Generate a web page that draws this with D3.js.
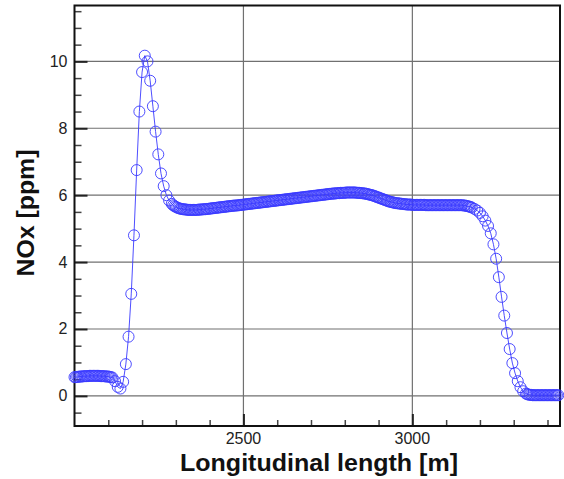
<!DOCTYPE html>
<html>
<head>
<meta charset="utf-8">
<script src="https://cdn.jsdelivr.net/npm/d3@7"></script>
<style>
  html, body { margin: 0; padding: 0; background: #fff; }
  svg { display: block; font-family: "Liberation Sans", Arial, sans-serif; }
</style>
</head>
<body>
<svg id="chart" width="564" height="479"></svg>
<script>
// Sampling positions along the tunnel [m] (finer spacing where the profile is flat)
const distance = [
  2000, 2004, 2008, 2012, 2016, 2020, 2024, 2028, 2032, 2036,
  2040, 2044, 2048, 2052, 2056, 2060, 2064, 2068, 2072, 2076,
  2080, 2084, 2088, 2092, 2096, 2100, 2104, 2108, 2112,
  2120, 2128, 2136, 2144, 2152, 2160, 2168, 2176, 2184, 2192,
  2200, 2208, 2216, 2224, 2232, 2240, 2248, 2256, 2264, 2272,
  2280, 2288,
  2292, 2296, 2300, 2304, 2308, 2312, 2316, 2320, 2324, 2328,
  2332, 2336, 2340, 2344, 2348, 2352, 2356, 2360, 2364, 2368,
  2372, 2376, 2380, 2384, 2388, 2392, 2396, 2400, 2404, 2408,
  2412, 2416, 2420, 2424, 2428, 2432, 2436, 2440, 2444, 2448,
  2452, 2456, 2460, 2464, 2468, 2472, 2476, 2480, 2484, 2488,
  2492, 2496, 2500, 2504, 2508, 2512, 2516, 2520, 2524, 2528,
  2532, 2536, 2540, 2544, 2548, 2552, 2556, 2560, 2564, 2568,
  2572, 2576, 2580, 2584, 2588, 2592, 2596, 2600, 2604, 2608,
  2612, 2616, 2620, 2624, 2628, 2632, 2636, 2640, 2644, 2648,
  2652, 2656, 2660, 2664, 2668, 2672, 2676, 2680, 2684, 2688,
  2692, 2696, 2700, 2704, 2708, 2712, 2716, 2720, 2724, 2728,
  2732, 2736, 2740, 2744, 2748, 2752, 2756, 2760, 2764, 2768,
  2772, 2776, 2780, 2784, 2788, 2792, 2796, 2800, 2804, 2808,
  2812, 2816, 2820, 2824, 2828, 2832, 2836, 2840, 2844, 2848,
  2852, 2856, 2860, 2864, 2868, 2872, 2876, 2880, 2884, 2888,
  2892, 2896, 2900, 2904, 2908, 2912, 2916, 2920, 2924, 2928,
  2932, 2936, 2940, 2944, 2948, 2952, 2956, 2960, 2964, 2968,
  2972, 2976, 2980, 2984, 2988, 2992, 2996, 3000, 3004, 3008,
  3012, 3016, 3020, 3024, 3028, 3032, 3036, 3040, 3044, 3048,
  3052, 3056, 3060, 3064, 3068, 3072, 3076, 3080, 3084, 3088,
  3092, 3096, 3100, 3104, 3108, 3112, 3116, 3120, 3124, 3128,
  3132, 3136, 3140, 3144, 3148, 3152, 3156, 3160, 3164, 3168,
  3172, 3176,
  3184, 3192, 3200, 3208, 3216, 3224, 3232, 3240, 3248, 3256,
  3264, 3272, 3280, 3288, 3296, 3304, 3312, 3320, 3328, 3336,
  3340, 3344, 3348, 3352, 3356, 3360, 3364, 3368, 3372, 3376,
  3380, 3384, 3388, 3392, 3396, 3400, 3404, 3408, 3412, 3416,
  3420, 3424, 3428, 3432
];

// NOx concentration at each position [ppm]
const nox = [
  0.56, 0.56, 0.57, 0.57, 0.58, 0.58, 0.58, 0.59, 0.59, 0.59,
  0.59, 0.60, 0.60, 0.60, 0.60, 0.60, 0.60, 0.60, 0.60, 0.59,
  0.59, 0.59, 0.59, 0.58, 0.58, 0.58, 0.57, 0.56, 0.55,
  0.44, 0.27, 0.22, 0.42, 0.95, 1.77, 3.05, 4.80, 6.75, 8.50,
  9.68, 10.17, 10.00, 9.42, 8.66, 7.90, 7.22, 6.65, 6.27, 6.00,
  5.84, 5.74,
  5.70, 5.67, 5.65, 5.63, 5.61, 5.60, 5.59, 5.58, 5.58, 5.57,
  5.57, 5.56, 5.56, 5.56, 5.56, 5.56, 5.56, 5.56, 5.56, 5.57,
  5.57, 5.57, 5.58, 5.58, 5.58, 5.59, 5.59, 5.60, 5.60, 5.61,
  5.61, 5.62, 5.62, 5.63, 5.63, 5.64, 5.64, 5.65, 5.65, 5.66,
  5.66, 5.67, 5.67, 5.68, 5.68, 5.69, 5.69, 5.69, 5.70, 5.70,
  5.71, 5.71, 5.72, 5.72, 5.73, 5.73, 5.74, 5.74, 5.75, 5.75,
  5.76, 5.76, 5.77, 5.77, 5.78, 5.78, 5.79, 5.79, 5.80, 5.80,
  5.81, 5.81, 5.82, 5.82, 5.83, 5.83, 5.84, 5.84, 5.85, 5.85,
  5.86, 5.86, 5.87, 5.87, 5.88, 5.88, 5.89, 5.89, 5.90, 5.90,
  5.91, 5.91, 5.92, 5.92, 5.93, 5.93, 5.94, 5.94, 5.95, 5.95,
  5.96, 5.96, 5.97, 5.97, 5.98, 5.98, 5.99, 5.99, 6.00, 6.00,
  6.01, 6.01, 6.02, 6.02, 6.03, 6.03, 6.04, 6.04, 6.05, 6.05,
  6.05, 6.06, 6.06, 6.06, 6.07, 6.07, 6.07, 6.07, 6.08, 6.08,
  6.08, 6.08, 6.08, 6.08, 6.08, 6.08, 6.07, 6.07, 6.07, 6.06,
  6.06, 6.05, 6.05, 6.04, 6.03, 6.02, 6.01, 6.00, 5.99, 5.97,
  5.96, 5.94, 5.93, 5.91, 5.90, 5.88, 5.87, 5.85, 5.84, 5.82,
  5.81, 5.80, 5.79, 5.78, 5.77, 5.76, 5.76, 5.75, 5.75, 5.74,
  5.74, 5.73, 5.73, 5.72, 5.72, 5.72, 5.72, 5.71, 5.71, 5.71,
  5.71, 5.71, 5.71, 5.71, 5.71, 5.71, 5.71, 5.70, 5.70, 5.70,
  5.70, 5.70, 5.70, 5.70, 5.70, 5.70, 5.70, 5.70, 5.70, 5.70,
  5.70, 5.70, 5.70, 5.70, 5.70, 5.70, 5.70, 5.70, 5.70, 5.70,
  5.70, 5.70, 5.70, 5.70, 5.70, 5.69, 5.69, 5.68, 5.67, 5.66,
  5.65, 5.63,
  5.59, 5.54, 5.47, 5.37, 5.24, 5.08, 4.86, 4.53, 4.10, 3.55,
  2.96, 2.40, 1.88, 1.40, 0.98, 0.68, 0.44, 0.26, 0.14, 0.07,
  0.05, 0.04, 0.03, 0.03, 0.02, 0.02, 0.02, 0.02, 0.02, 0.02,
  0.02, 0.02, 0.02, 0.02, 0.02, 0.02, 0.02, 0.02, 0.02, 0.02,
  0.02, 0.02, 0.02, 0.02
];

// Axis ticks
const xMajorTicks = [2500, 3000];
const xMinorTicks = [2100, 2200, 2300, 2400, 2600, 2700, 2800, 2900, 3100, 3200, 3300, 3400];
const yMajorTicks = [0, 2, 4, 6, 8, 10];
const yMinorTicks = [-0.5, 0.5, 1, 1.5, 2.5, 3, 3.5, 4.5, 5, 5.5, 6.5, 7, 7.5, 8.5, 9, 9.5, 10.5, 11, 11.5];

const xTitle = "Longitudinal length [m]";
const yTitle = "NOx [ppm]";

const svg = d3.select("#chart");
const plot = { left: 74.5, right: 560, top: 5.5, bottom: 426 };

const x = d3.scaleLinear().domain([2000, 3437]).range([plot.left, plot.right]);
const y = d3.scaleLinear().domain([-0.9, 11.67]).range([plot.bottom, plot.top]);

// Grid lines
const grid = svg.append("g");
grid.selectAll("line.h").data(yMajorTicks).join("line").attr("class", "h")
  .attr("x1", plot.left).attr("x2", plot.right)
  .attr("y1", d => y(d)).attr("y2", d => y(d))
  .attr("stroke", "#707070").attr("stroke-width", 1.2);
grid.selectAll("line.v").data(xMajorTicks).join("line").attr("class", "v")
  .attr("y1", plot.top).attr("y2", plot.bottom)
  .attr("x1", d => x(d)).attr("x2", d => x(d))
  .attr("stroke", "#707070").attr("stroke-width", 1.2);

// Inward tick marks on the left axis
const yAxisMajor = d3.axisRight(y).tickValues(yMajorTicks).tickSize(13).tickFormat("");
const yAxisMinor = d3.axisRight(y).tickValues(yMinorTicks).tickSize(7).tickFormat("");
svg.append("g").attr("transform", `translate(${plot.left},0)`).call(yAxisMajor)
  .call(g => g.select(".domain").remove())
  .call(g => g.selectAll("line").attr("stroke", "#222").attr("stroke-width", 2));
svg.append("g").attr("transform", `translate(${plot.left},0)`).call(yAxisMinor)
  .call(g => g.select(".domain").remove())
  .call(g => g.selectAll("line").attr("stroke", "#444").attr("stroke-width", 1.5));

// Inward tick marks on the bottom axis
const xAxisMajor = d3.axisTop(x).tickValues(xMajorTicks).tickSize(12).tickFormat("");
const xAxisMinor = d3.axisTop(x).tickValues(xMinorTicks).tickSize(6).tickFormat("");
svg.append("g").attr("transform", `translate(0,${plot.bottom})`).call(xAxisMajor)
  .call(g => g.select(".domain").remove())
  .call(g => g.selectAll("line").attr("stroke", "#222").attr("stroke-width", 2));
svg.append("g").attr("transform", `translate(0,${plot.bottom})`).call(xAxisMinor)
  .call(g => g.select(".domain").remove())
  .call(g => g.selectAll("line").attr("stroke", "#444").attr("stroke-width", 1.5));

// Tick labels
svg.append("g").selectAll("text").data(yMajorTicks).join("text")
  .attr("x", plot.left - 7).attr("y", d => y(d))
  .attr("text-anchor", "end").attr("dominant-baseline", "central")
  .attr("font-size", 16).attr("fill", "#222")
  .text(d => d);
svg.append("g").selectAll("text").data(xMajorTicks).join("text")
  .attr("x", d => x(d)).attr("y", 443.5)
  .attr("text-anchor", "middle")
  .attr("font-size", 16).attr("fill", "#222")
  .text(d => d);

// Plot frame
svg.append("rect")
  .attr("x", plot.left).attr("y", plot.top)
  .attr("width", plot.right - plot.left).attr("height", plot.bottom - plot.top)
  .attr("fill", "none").attr("stroke", "#111").attr("stroke-width", 2);

// Data: connecting line and open circle markers
const points = distance.map((d, i) => [d, nox[i]]);
svg.append("path")
  .datum(points)
  .attr("fill", "none").attr("stroke", "#3a3aff").attr("stroke-width", 0.9)
  .attr("d", d3.line().x(d => x(d[0])).y(d => y(d[1])));
svg.append("g").selectAll("circle").data(points).join("circle")
  .attr("cx", d => x(d[0])).attr("cy", d => y(d[1])).attr("r", 5.5)
  .attr("fill", "none").attr("stroke", "#3a3aff").attr("stroke-width", 0.9);

// Axis titles
svg.append("text")
  .attr("x", 319).attr("y", 471)
  .attr("text-anchor", "middle")
  .attr("font-size", 23).attr("font-weight", "bold").attr("fill", "#111")
  .attr("textLength", 278).attr("lengthAdjust", "spacingAndGlyphs")
  .text(xTitle);
svg.append("text")
  .attr("transform", "translate(34,213) rotate(-90)")
  .attr("text-anchor", "middle")
  .attr("font-size", 23).attr("font-weight", "bold").attr("fill", "#111")
  .attr("textLength", 127).attr("lengthAdjust", "spacingAndGlyphs")
  .text(yTitle);
</script>
</body>
</html>
